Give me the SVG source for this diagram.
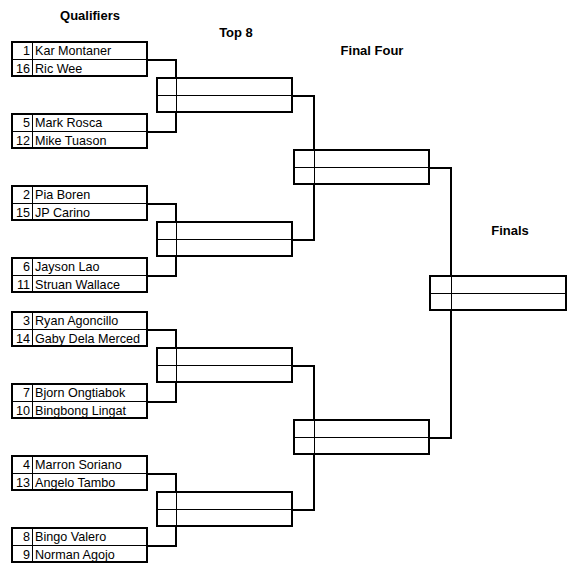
<svg xmlns="http://www.w3.org/2000/svg" width="580" height="580" viewBox="0 0 580 580">
<style>
.box{fill:#fff;stroke:#000;stroke-width:2}
.in{stroke:#000;stroke-width:1;fill:none}
.con{fill:none;stroke:#000;stroke-width:2;stroke-linejoin:miter;stroke-linecap:square}
.t{font-family:"Liberation Sans",Arial,sans-serif;font-size:12.6px;fill:#000}
.n{text-anchor:end}
.h{font-family:"Liberation Sans",Arial,sans-serif;font-size:13px;font-weight:bold;fill:#000;text-anchor:middle}
</style>
<rect width="580" height="580" fill="#fff"/>
<g id="titles">
<text class="h" x="90" y="20">Qualifiers</text>
<text class="h" x="236" y="37">Top 8</text>
<text class="h" x="372" y="55">Final Four</text>
<text class="h" x="510" y="235">Finals</text>
</g>
<g id="connectors">
<path class="con" d="M148 60H176V132H148"/>
<path class="con" d="M148 204H176V276H148"/>
<path class="con" d="M148 330H176V402H148"/>
<path class="con" d="M148 474H176V546H148"/>
<path class="con" d="M293 96H314V240H293"/>
<path class="con" d="M293 366H314V510H293"/>
<path class="con" d="M430 168H451V438H430"/>
</g>
<g id="q1"><rect class="box" x="12" y="42" width="135" height="34"/><path class="in" d="M13 59.5H146M32.5 43V75"/><text class="t n" x="30" y="55">1</text><text class="t" x="35" y="55">Kar Montaner</text><text class="t n" x="30" y="73">16</text><text class="t" x="35" y="73">Ric Wee</text></g>
<g id="q2"><rect class="box" x="12" y="114" width="135" height="34"/><path class="in" d="M13 131.5H146M32.5 115V147"/><text class="t n" x="30" y="127">5</text><text class="t" x="35" y="127">Mark Rosca</text><text class="t n" x="30" y="145">12</text><text class="t" x="35" y="145">Mike Tuason</text></g>
<g id="q3"><rect class="box" x="12" y="186" width="135" height="34"/><path class="in" d="M13 203.5H146M32.5 187V219"/><text class="t n" x="30" y="199">2</text><text class="t" x="35" y="199">Pia Boren</text><text class="t n" x="30" y="217">15</text><text class="t" x="35" y="217">JP Carino</text></g>
<g id="q4"><rect class="box" x="12" y="258" width="135" height="34"/><path class="in" d="M13 275.5H146M32.5 259V291"/><text class="t n" x="30" y="271">6</text><text class="t" x="35" y="271">Jayson Lao</text><text class="t n" x="30" y="289">11</text><text class="t" x="35" y="289">Struan Wallace</text></g>
<g id="q5"><rect class="box" x="12" y="312" width="135" height="34"/><path class="in" d="M13 329.5H146M32.5 313V345"/><text class="t n" x="30" y="325">3</text><text class="t" x="35" y="325">Ryan Agoncillo</text><text class="t n" x="30" y="343">14</text><text class="t" x="35" y="343">Gaby Dela Merced</text></g>
<g id="q6"><rect class="box" x="12" y="384" width="135" height="34"/><path class="in" d="M13 401.5H146M32.5 385V417"/><text class="t n" x="30" y="397">7</text><text class="t" x="35" y="397">Bjorn Ongtiabok</text><text class="t n" x="30" y="415">10</text><text class="t" x="35" y="415">Bingbong Lingat</text></g>
<g id="q7"><rect class="box" x="12" y="456" width="135" height="34"/><path class="in" d="M13 473.5H146M32.5 457V489"/><text class="t n" x="30" y="469">4</text><text class="t" x="35" y="469">Marron Soriano</text><text class="t n" x="30" y="487">13</text><text class="t" x="35" y="487">Angelo Tambo</text></g>
<g id="q8"><rect class="box" x="12" y="528" width="135" height="34"/><path class="in" d="M13 545.5H146M32.5 529V561"/><text class="t n" x="30" y="541">8</text><text class="t" x="35" y="541">Bingo Valero</text><text class="t n" x="30" y="559">9</text><text class="t" x="35" y="559">Norman Agojo</text></g>
<g id="t1"><rect class="box" x="157" y="78" width="135" height="34"/><path class="in" d="M158 95.5H291M176.5 79V111"/></g>
<g id="t2"><rect class="box" x="157" y="222" width="135" height="34"/><path class="in" d="M158 239.5H291M176.5 223V255"/></g>
<g id="t3"><rect class="box" x="157" y="348" width="135" height="34"/><path class="in" d="M158 365.5H291M176.5 349V381"/></g>
<g id="t4"><rect class="box" x="157" y="492" width="135" height="34"/><path class="in" d="M158 509.5H291M176.5 493V525"/></g>
<g id="f1"><rect class="box" x="294" y="150" width="135" height="34"/><path class="in" d="M295 167.5H428M314.5 151V183"/></g>
<g id="f2"><rect class="box" x="294" y="420" width="135" height="34"/><path class="in" d="M295 437.5H428M314.5 421V453"/></g>
<g id="final"><rect class="box" x="430" y="276" width="136" height="34"/><path class="in" d="M431 293.5H565M451.5 277V309"/></g>
</svg>
